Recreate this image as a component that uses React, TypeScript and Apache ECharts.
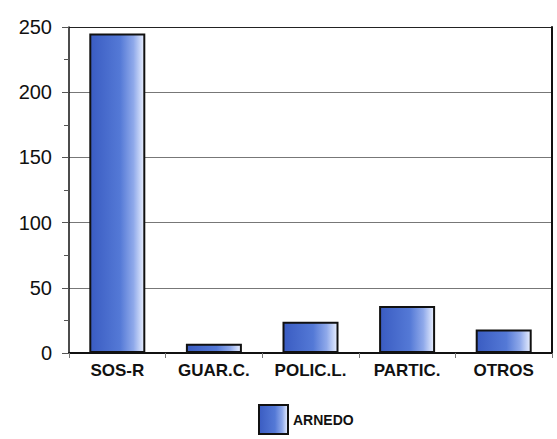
import React, { useEffect, useRef } from "react";
import * as echarts from "echarts";

const categories = ["SOS-R", "GUAR.C.", "POLIC.L.", "PARTIC.", "OTROS"];
const arnedo = [245, 7, 24, 36, 18];
const seriesName = "ARNEDO";
const yTicks = [0, 50, 100, 150, 200, 250];

export default function App() {
  const ref = useRef<HTMLDivElement>(null);
  useEffect(() => {
    if (!ref.current) return;
    const chart = echarts.init(ref.current, undefined, { renderer: "svg" });
    const grad = new echarts.graphic.LinearGradient(0, 0, 1, 0, [
      { offset: 0, color: "#3a5cc2" },
      { offset: 0.55, color: "#5479d6" },
      { offset: 0.8, color: "#8fa9ea" },
      { offset: 1, color: "#eaf0ff" },
    ]);
    chart.setOption({
      animation: false,
      backgroundColor: "#ffffff",
      textStyle: { fontFamily: "Liberation Sans, Arial, sans-serif" },
      grid: { left: 69, right: 5, top: 27, bottom: 86, containLabel: false },
      legend: {
        data: [seriesName],
        left: 253,
        top: 399,
        itemWidth: 29,
        itemHeight: 29,
        icon: "rect",
        textStyle: { fontSize: 14, fontWeight: "bold", color: "#111" },
      },
      xAxis: {
        type: "category",
        data: categories,
        axisLine: { show: true, lineStyle: { color: "#111", width: 2 } },
        axisTick: { show: true, length: 5, alignWithLabel: false, lineStyle: { color: "#777", width: 1 } },
        axisLabel: { fontSize: 17, fontWeight: "bold", color: "#111", margin: 9 },
      },
      yAxis: [
        {
          type: "value",
          min: yTicks[0],
          max: yTicks[yTicks.length - 1],
          interval: 50,
          axisLine: { show: true, lineStyle: { color: "#111", width: 1.5 } },
          axisTick: { show: true, length: 7, lineStyle: { color: "#555" } },
          minorTick: { show: true, splitNumber: 2, length: 5, lineStyle: { color: "#555" } },
          splitLine: { show: true, lineStyle: { color: ["#777", "#777", "#777", "#777", "#777", "#222"], width: 1 } },
          axisLabel: { fontSize: 20, color: "#111", margin: 17 },
        },
        {
          type: "value",
          position: "right",
          min: yTicks[0],
          max: yTicks[yTicks.length - 1],
          interval: 50,
          axisLine: { show: true, lineStyle: { color: "#111", width: 2 } },
          axisTick: { show: false },
          axisLabel: { show: false },
          splitLine: { show: false },
        },
      ],
      series: [
        {
          name: seriesName,
          type: "bar",
          data: arnedo,
          barWidth: 56,
          itemStyle: { color: grad, borderColor: "#111", borderWidth: 2 },
        },
      ],
    });
    return () => chart.dispose();
  }, []);
  return (
    <div
      ref={ref}
      style={{ position: "fixed", left: 0, top: 0, width: 557, height: 439 }}
    />
  );
}
